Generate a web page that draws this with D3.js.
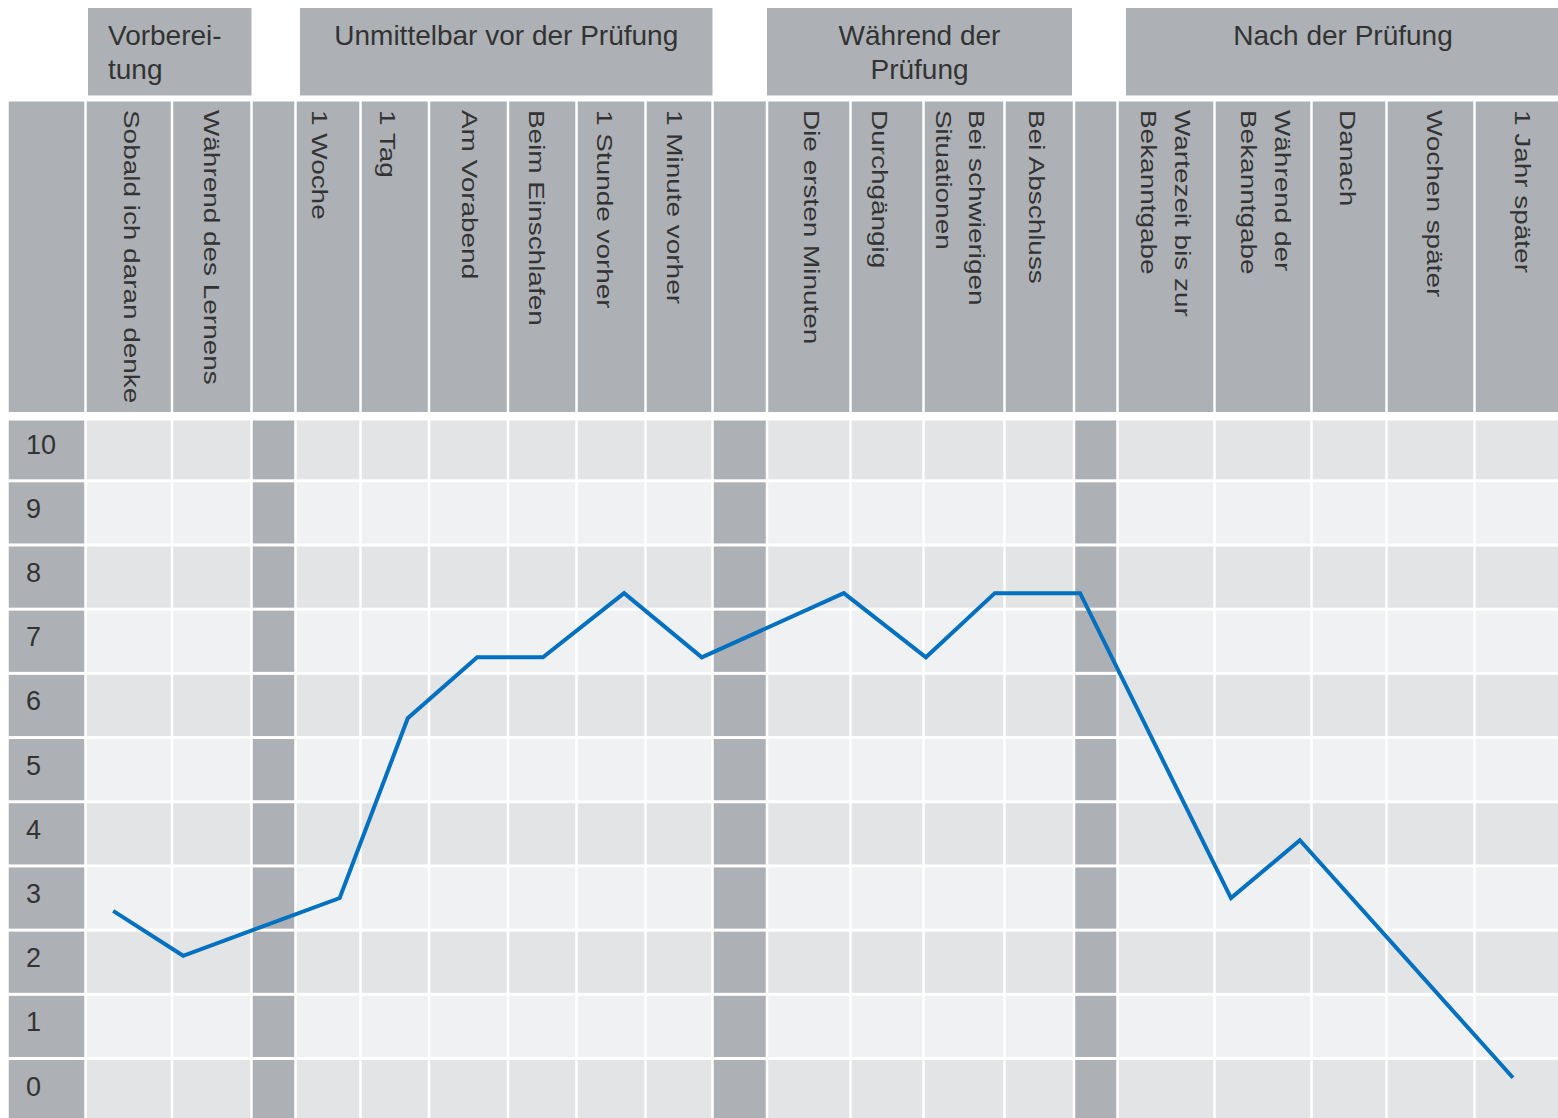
<!DOCTYPE html>
<html>
<head>
<meta charset="utf-8">
<script src="https://cdn.jsdelivr.net/npm/d3@7"></script>
<style>
body { margin: 0; background: #fff; }
text { font-family: "Liberation Sans", Arial, sans-serif; fill: #333; }
</style>
</head>
<body>
<div id="chart"></div>
<script>

var width = 1558;
var height = 1118;

// data
var columnLabels = [
	["Sobald ich daran denke"],
	["Während des Lernens"],
	[],
	["1 Woche"],
	["1 Tag"],
	["Am Vorabend"],
	["Beim Einschlafen"],
	["1 Stunde vorher"],
	["1 Minute vorher"],
	[],
	["Die ersten Minuten"],
	["Durchgängig"],
	["Bei schwierigen", "Situationen"],
	["Bei Abschluss"],
	[],
	["Wartezeit bis zur", "Bekanntgabe"],
	["Während der", "Bekanntgabe"],
	["Danach"],
	["Wochen später"],
	["1 Jahr später"]
];

var groupLabels = [
	["Vorberei-", "tung"],
	["Unmittelbar vor der Prüfung"],
	["Während der", "Prüfung"],
	["Nach der Prüfung"]
];
var groupSpans = [[0, 1], [3, 8], [10, 13], [15, 19]];

var yTicks = [0, 1, 2, 3, 4, 5, 6, 7, 8, 9, 10];

// line: position in column units (column index + fraction), value
var linePos    = [0.32, 1.14, 3.68, 4.69, 5.61, 6.51, 7.69, 8.84, 10.92, 12.03, 12.88, 14.14, 16.17, 16.88, 19.45];
var lineValues = [2.8,  2.1,  3.0,  5.8,  6.75, 6.75, 7.75, 6.75, 7.75,  6.75,  7.75,  7.75,  3.0,   3.9,   0.2];

// layout
var left = 7.5;
var labelColWidth = 78;
var colWidths = [86.5, 79.5, 44, 65, 68.5, 79, 68.5, 69, 67, 54.5, 83.5, 73, 81, 69.5, 43.5, 97, 97, 75, 88, 85.5];
var labelShift = [3.5, 0, 0, -8, -6.5, 1.5, -5, -6, -4, 0, 3, -7, -3.5, -2, 0, 0, 3, -1, 5, 6];
var groupInset = [[2.5, 0], [4.5, 0], [0, 2], [8.5, 0]];
var groupAlign = ["start", "middle", "middle", "middle"];
var gap = 2.5;
var headTop = 101.5, headBottom = 412;
var gridTop = 420.5;
var rowH = 61.2;

var grey = "#adb1b5", rowDark = "#e3e4e6", rowLight = "#f0f1f3";

var edges = [left + labelColWidth];
colWidths.forEach(w => edges.push(edges[edges.length - 1] + w));

var x = d3.scaleLinear()
	.domain(d3.range(edges.length))
	.range(edges);

var y = d3.scaleLinear()
	.domain([0, 10])
	.range([1090.6, 448.7]);

var isSep = i => columnLabels[i].length == 0;

const svg = d3.select("#chart").append("svg")
	.attr("width", width)
	.attr("height", height)
	.attr("viewBox", [0, 0, width, height]);

// group boxes
const gGroups = svg.append("g");
groupLabels.forEach((lines, gi) => {
	var x0 = x(groupSpans[gi][0]) + groupInset[gi][0];
	var x1 = x(groupSpans[gi][1] + 1) - groupInset[gi][1];
	gGroups.append("rect")
		.attr("x", x0).attr("y", 8)
		.attr("width", x1 - x0).attr("height", 87.5)
		.attr("fill", grey);
	var tx = groupAlign[gi] == "start" ? x0 + 20 : (x0 + x1) / 2;
	var t = gGroups.append("text")
		.attr("font-size", 28)
		.attr("text-anchor", groupAlign[gi]);
	t.selectAll("tspan")
		.data(lines)
		.join("tspan")
		.attr("x", tx)
		.attr("y", (d, i) => 45 + i * 34)
		.text(d => d);
});

// header row cells
const gHead = svg.append("g");
gHead.append("rect")
	.attr("x", left + gap / 2).attr("y", headTop)
	.attr("width", labelColWidth - gap).attr("height", headBottom - headTop)
	.attr("fill", grey);

gHead.selectAll("rect.col")
	.data(columnLabels)
	.join("rect")
	.attr("class", "col")
	.attr("x", (d, i) => x(i) + gap / 2)
	.attr("y", headTop)
	.attr("width", (d, i) => x(i + 1) - x(i) - gap)
	.attr("height", headBottom - headTop)
	.attr("fill", grey);

// rotated column labels
gHead.selectAll("g.lab")
	.data(columnLabels)
	.join("g")
	.attr("class", "lab")
	.attr("transform", (d, i) => `translate(${(x(i) + x(i + 1)) / 2 + labelShift[i]},110) rotate(90) scale(1.27,1)`)
	.each(function(lines) {
		var n = lines.length;
		d3.select(this).selectAll("text")
			.data(lines)
			.join("text")
			.attr("font-size", 22)
			.attr("x", 0)
			.attr("y", (d, i) => (i - (n - 1) / 2) * 34 + 8)
			.text(d => d);
	});

// grid rows
const gGrid = svg.append("g");
yTicks.forEach(v => {
	var top = Math.max(y(v) - rowH / 2, gridTop);
	var bottom = y(v) + rowH / 2;
	gGrid.append("rect")
		.attr("x", left + gap / 2).attr("y", top)
		.attr("width", labelColWidth - gap).attr("height", bottom - top)
		.attr("fill", grey);
	gGrid.selectAll(null)
		.data(columnLabels)
		.join("rect")
		.attr("x", (d, i) => x(i) + gap / 2)
		.attr("y", top)
		.attr("width", (d, i) => x(i + 1) - x(i) - gap)
		.attr("height", bottom - top)
		.attr("fill", (d, i) => isSep(i) ? grey : (v % 2 == 0 ? rowDark : rowLight));
});

// y tick labels
svg.append("g")
	.selectAll("text")
	.data(yTicks)
	.join("text")
	.attr("font-size", 27)
	.attr("x", 26)
	.attr("y", d => y(d) + 5)
	.text(d => d);

// line
var line = d3.line()
	.x((d, i) => x(linePos[i]))
	.y(d => y(d));

svg.append("path")
	.datum(lineValues)
	.attr("fill", "none")
	.attr("stroke", "#0070c0")
	.attr("stroke-width", 4)
	.attr("d", line);

</script>
</body>
</html>
